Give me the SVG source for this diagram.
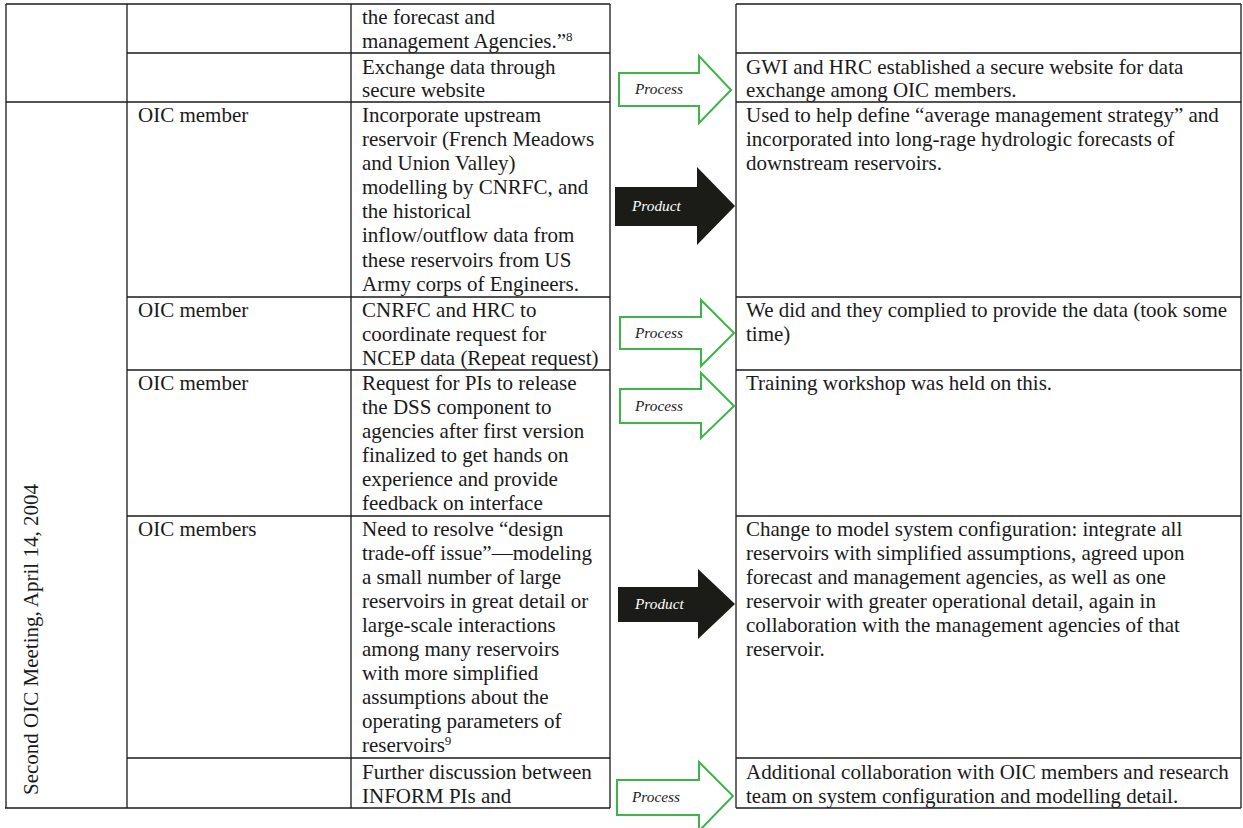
<svg xmlns="http://www.w3.org/2000/svg" width="1243" height="828" viewBox="0 0 1243 828">
  <style>
    .grid { stroke: #1a1a1a; stroke-width: 1.3; fill: none; }
    .t { font-family: "Liberation Serif", "Times New Roman", serif; font-size: 21px; fill: #1a1a1a; }
    .sup { font-size: 13px; }
    .proc { fill: #ffffff; stroke: #3db548; stroke-width: 2; stroke-linejoin: miter; }
    .prod { fill: #1b1b17; stroke: none; }
    .lbl { font-family: "Liberation Serif", "Times New Roman", serif; font-style: italic; font-size: 15.3px; }
    .lbl-proc { fill: #1a1a1a; }
    .lbl-prod { fill: #ffffff; }
  </style>
  <rect width="1243" height="828" fill="#ffffff"/>

  <!-- left table rules -->
  <g id="left-table" class="grid">
    <line x1="6" y1="4" x2="610" y2="4"/>
    <line x1="127" y1="53" x2="610" y2="53"/>
    <line x1="6" y1="102" x2="610" y2="102"/>
    <line x1="127" y1="297" x2="610" y2="297"/>
    <line x1="127" y1="370" x2="610" y2="370"/>
    <line x1="127" y1="516" x2="610" y2="516"/>
    <line x1="127" y1="758" x2="610" y2="758"/>
    <line x1="5" y1="808" x2="610" y2="808"/>
    <line x1="6" y1="4" x2="6" y2="808"/>
    <line x1="127" y1="4" x2="127" y2="808"/>
    <line x1="351" y1="4" x2="351" y2="808"/>
    <line x1="610" y1="4" x2="610" y2="808"/>
  </g>

  <!-- right table rules -->
  <g id="right-table" class="grid">
    <line x1="736" y1="4" x2="1241" y2="4"/>
    <line x1="736" y1="53" x2="1241" y2="53"/>
    <line x1="736" y1="102" x2="1241" y2="102"/>
    <line x1="736" y1="297" x2="1241" y2="297"/>
    <line x1="736" y1="370" x2="1241" y2="370"/>
    <line x1="736" y1="516" x2="1241" y2="516"/>
    <line x1="736" y1="758" x2="1241" y2="758"/>
    <line x1="736" y1="808" x2="1241" y2="808"/>
    <line x1="736" y1="4" x2="736" y2="808"/>
    <line x1="1241" y1="4" x2="1241" y2="808"/>
  </g>

  <!-- meeting label (merged first column) -->
  <g id="meeting">
    <text class="t" transform="translate(38,795) rotate(-90)">Second OIC Meeting, April 14, 2004</text>
  </g>

  <!-- who -->
  <g id="who">
    <text class="t" x="138" y="122">OIC member</text>
    <text class="t" x="138" y="317">OIC member</text>
    <text class="t" x="138" y="390">OIC member</text>
    <text class="t" x="138" y="536">OIC members</text>
  </g>

  <!-- issue / request column -->
  <g id="req-0">
    <text class="t" x="362" y="24">the forecast and</text>
    <text class="t" x="362" y="48">management Agencies.”<tspan class="sup" dy="-7">8</tspan></text>
  </g>
  <g id="req-1">
    <text class="t" x="362" y="74">Exchange data through</text>
    <text class="t" x="362" y="97">secure website</text>
  </g>
  <g id="req-2">
    <text class="t" x="362" y="122">Incorporate upstream</text>
    <text class="t" x="362" y="146">reservoir (French Meadows</text>
    <text class="t" x="362" y="170">and Union Valley)</text>
    <text class="t" x="362" y="194">modelling by CNRFC, and</text>
    <text class="t" x="362" y="218">the historical</text>
    <text class="t" x="362" y="242">inflow/outflow data from</text>
    <text class="t" x="362" y="267">these reservoirs from US</text>
    <text class="t" x="362" y="291">Army corps of Engineers.</text>
  </g>
  <g id="req-3">
    <text class="t" x="362" y="317">CNRFC and HRC to</text>
    <text class="t" x="362" y="341">coordinate request for</text>
    <text class="t" x="362" y="365">NCEP data (Repeat request)</text>
  </g>
  <g id="req-4">
    <text class="t" x="362" y="390">Request for PIs to release</text>
    <text class="t" x="362" y="414">the DSS component to</text>
    <text class="t" x="362" y="438">agencies after first version</text>
    <text class="t" x="362" y="462">finalized to get hands on</text>
    <text class="t" x="362" y="486">experience and provide</text>
    <text class="t" x="362" y="510">feedback on interface</text>
  </g>
  <g id="req-5">
    <text class="t" x="362" y="536">Need to resolve “design</text>
    <text class="t" x="362" y="560">trade-off issue”—modeling</text>
    <text class="t" x="362" y="584">a small number of large</text>
    <text class="t" x="362" y="608">reservoirs in great detail or</text>
    <text class="t" x="362" y="632">large-scale interactions</text>
    <text class="t" x="362" y="656">among many reservoirs</text>
    <text class="t" x="362" y="680">with more simplified</text>
    <text class="t" x="362" y="704">assumptions about the</text>
    <text class="t" x="362" y="728">operating parameters of</text>
    <text class="t" x="362" y="752">reservoirs<tspan class="sup" dy="-7">9</tspan></text>
  </g>
  <g id="req-6">
    <text class="t" x="362" y="779">Further discussion between</text>
    <text class="t" x="362" y="803">INFORM PIs and</text>
  </g>

  <!-- outcome column -->
  <g id="out-1">
    <text class="t" x="746" y="74">GWI and HRC established a secure website for data</text>
    <text class="t" x="746" y="97">exchange among OIC members.</text>
  </g>
  <g id="out-2">
    <text class="t" x="746" y="122">Used to help define “average management strategy” and</text>
    <text class="t" x="746" y="146">incorporated into long-rage hydrologic forecasts of</text>
    <text class="t" x="746" y="170">downstream reservoirs.</text>
  </g>
  <g id="out-3">
    <text class="t" x="746" y="317">We did and they complied to provide the data (took some</text>
    <text class="t" x="746" y="341">time)</text>
  </g>
  <g id="out-4">
    <text class="t" x="746" y="390">Training workshop was held on this.</text>
  </g>
  <g id="out-5">
    <text class="t" x="746" y="536">Change to model system configuration: integrate all</text>
    <text class="t" x="746" y="560">reservoirs with simplified assumptions, agreed upon</text>
    <text class="t" x="746" y="584">forecast and management agencies, as well as one</text>
    <text class="t" x="746" y="608">reservoir with greater operational detail, again in</text>
    <text class="t" x="746" y="632">collaboration with the management agencies of that</text>
    <text class="t" x="746" y="656">reservoir.</text>
  </g>
  <g id="out-6">
    <text class="t" x="746" y="779">Additional collaboration with OIC members and research</text>
    <text class="t" x="746" y="803">team on system configuration and modelling detail.</text>
  </g>

  <!-- block arrows linking requests to outcomes -->
  <g id="connectors">
    <g id="arrow-process-1">
      <polygon class="proc" points="619,73 699,73 699,56 731,90 699,123 699,106 619,106"/>
      <text class="lbl lbl-proc" x="635" y="94">Process</text>
    </g>
    <g id="arrow-product-1">
      <polygon class="prod" points="615,187 697,187 697,167 735,206 697,245 697,226 615,226"/>
      <text class="lbl lbl-prod" x="632" y="211">Product</text>
    </g>
    <g id="arrow-process-2">
      <polygon class="proc" points="620,317 701,317 701,300 734,333 701,366 701,349 620,349"/>
      <text class="lbl lbl-proc" x="635" y="338">Process</text>
    </g>
    <g id="arrow-process-3">
      <polygon class="proc" points="620,389 701,389 701,373 734,406 701,438 701,423 620,423"/>
      <text class="lbl lbl-proc" x="635" y="411">Process</text>
    </g>
    <g id="arrow-product-2">
      <polygon class="prod" points="618,587 698,587 698,569 735,604 698,639 698,622 618,622"/>
      <text class="lbl lbl-prod" x="635" y="609">Product</text>
    </g>
    <g id="arrow-process-4">
      <polygon class="proc" points="617,780 699,780 699,762 733,796 699,831 699,815 617,815"/>
      <text class="lbl lbl-proc" x="632" y="802">Process</text>
    </g>
  </g>
</svg>
